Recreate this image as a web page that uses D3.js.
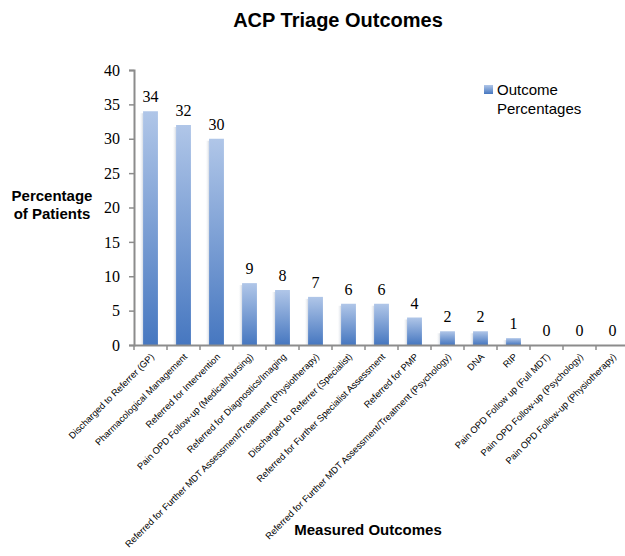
<!DOCTYPE html>
<html>
<head>
<meta charset="utf-8">
<script src="https://cdn.jsdelivr.net/npm/d3@7"></script>
<style>
  body { margin: 0; background: #fff; }
  svg { display: block; }
</style>
</head>
<body>
<svg id="chart" width="625" height="556"></svg>
<script>
// données du graphique
const categories = [
    "Discharged to Referrer (GP)",
    "Pharmacological Management",
    "Referred for Intervention",
    "Pain OPD Follow-up (Medical/Nursing)",
    "Referred for Diagnostics/Imaging",
    "Referred for Further MDT Assessment/Treatment (Physiotherapy)",
    "Discharged to Referrer (Specialist)",
    "Referred for Further Specialist Assessment",
    "Referred for PMP",
    "Referred for Further MDT Assessment/Treatment (Psychology)",
    "DNA",
    "RIP",
    "Pain OPD Follow up (Full MDT)",
    "Pain OPD Follow-up (Psychology)",
    "Pain OPD Follow-up (Physiotherapy)"
];
const percentages = [34, 32, 30, 9, 8, 7, 6, 6, 4, 2, 2, 1, 0, 0, 0];
const yTicks = [0, 5, 10, 15, 20, 25, 30, 35, 40];

const svg = d3.select("#chart");

const x = d3.scaleBand()
    .domain(categories)
    .range([134, 629])
    .paddingInner(0.55)
    .paddingOuter(0.275);

const y = d3.scaleLinear()
    .domain([0, 40])
    .range([345, 70]);

// dégradé des barres
const defs = svg.append("defs");
const grad = defs.append("linearGradient")
    .attr("id", "barGrad")
    .attr("x1", 0).attr("y1", 0).attr("x2", 0).attr("y2", 1);
grad.append("stop").attr("offset", "0%").attr("stop-color", "#b0c6e8");
grad.append("stop").attr("offset", "100%").attr("stop-color", "#4677c0");

const shadow = defs.append("linearGradient")
    .attr("id", "shadowGrad")
    .attr("x1", 0).attr("y1", 0).attr("x2", 1).attr("y2", 0);
shadow.append("stop").attr("offset", "0%").attr("stop-color", "#ffffff").attr("stop-opacity", 0);
shadow.append("stop").attr("offset", "100%").attr("stop-color", "#c8d0dc").attr("stop-opacity", 0.8);

// ombre à gauche des barres
svg.append("g")
    .selectAll("rect")
    .data(percentages)
    .join("rect")
    .attr("x", (d, i) => x(categories[i]) - 4)
    .attr("y", d => y(d) + 2)
    .attr("width", 4)
    .attr("height", d => Math.max(0, y(0) - y(d) - 2))
    .attr("fill", "url(#shadowGrad)");

svg.append("g")
    .selectAll("rect")
    .data(percentages)
    .join("rect")
    .attr("x", (d, i) => x(categories[i]))
    .attr("y", d => y(d))
    .attr("width", x.bandwidth())
    .attr("height", d => y(0) - y(d))
    .attr("fill", "url(#barGrad)");

// étiquettes de valeur
svg.append("g")
    .selectAll("text")
    .data(percentages)
    .join("text")
    .attr("x", (d, i) => x(categories[i]) + x.bandwidth() / 2)
    .attr("y", d => y(d) - 9)
    .attr("text-anchor", "middle")
    .attr("font-family", "'Liberation Serif', 'DejaVu Serif', serif")
    .attr("font-size", 16)
    .attr("fill", "#000")
    .text(d => d);

// axe Y
const yAxis = svg.append("g")
    .attr("transform", "translate(134,0)")
    .call(d3.axisLeft(y).tickValues(yTicks).tickSize(5).tickPadding(9));
yAxis.select(".domain").attr("stroke", "#8c8c8c").attr("stroke-width", 2);
yAxis.selectAll(".tick line").attr("stroke", "#8c8c8c").attr("stroke-width", 1.5);
yAxis.selectAll("text")
    .attr("font-family", "'Liberation Serif', 'DejaVu Serif', serif")
    .attr("font-size", 16)
    .attr("fill", "#000");

// axe X
const xAxis = svg.append("g")
    .attr("transform", "translate(0,345)")
    .call(d3.axisBottom(x).tickSize(0).tickFormat(""));
xAxis.select(".domain").attr("stroke", "#8c8c8c").attr("stroke-width", 2);

// graduations entre les catégories
svg.append("g")
    .selectAll("line")
    .data(d3.range(categories.length + 1))
    .join("line")
    .attr("x1", i => 134 + i * x.step())
    .attr("x2", i => 134 + i * x.step())
    .attr("y1", 345)
    .attr("y2", 350)
    .attr("stroke", "#8c8c8c")
    .attr("stroke-width", 1.5);

svg.append("g")
    .selectAll("text")
    .data(categories)
    .join("text")
    .attr("transform", d => "translate(" + (x(d) + x.bandwidth() / 2 + 2) + ",355) rotate(-45)")
    .attr("text-anchor", "end")
    .attr("dy", "0.35em")
    .attr("font-family", "Arial, 'Liberation Sans', sans-serif")
    .attr("font-size", 9.3)
    .attr("fill", "#000")
    .text(d => d);

// titres
svg.append("text")
    .attr("x", 338)
    .attr("y", 27)
    .attr("text-anchor", "middle")
    .attr("font-family", "Arial, 'Liberation Sans', sans-serif")
    .attr("font-weight", "bold")
    .attr("font-size", 20)
    .text("ACP Triage Outcomes");

const yTitle = svg.append("text")
    .attr("text-anchor", "middle")
    .attr("font-family", "Arial, 'Liberation Sans', sans-serif")
    .attr("font-weight", "bold")
    .attr("font-size", 15);
yTitle.append("tspan").attr("x", 52).attr("y", 201).text("Percentage");
yTitle.append("tspan").attr("x", 52).attr("y", 219).text("of Patients");

svg.append("text")
    .attr("x", 368)
    .attr("y", 535)
    .attr("text-anchor", "middle")
    .attr("font-family", "Arial, 'Liberation Sans', sans-serif")
    .attr("font-weight", "bold")
    .attr("font-size", 15)
    .text("Measured Outcomes");

// légende
const legend = svg.append("g");
legend.append("rect")
    .attr("x", 484)
    .attr("y", 85)
    .attr("width", 9)
    .attr("height", 9)
    .attr("fill", "url(#barGrad)");
legend.append("text")
    .attr("x", 497)
    .attr("y", 95)
    .attr("font-family", "Arial, 'Liberation Sans', sans-serif")
    .attr("font-size", 15)
    .text("Outcome");
legend.append("text")
    .attr("x", 497)
    .attr("y", 114)
    .attr("font-family", "Arial, 'Liberation Sans', sans-serif")
    .attr("font-size", 15)
    .text("Percentages");
</script>
</body>
</html>
